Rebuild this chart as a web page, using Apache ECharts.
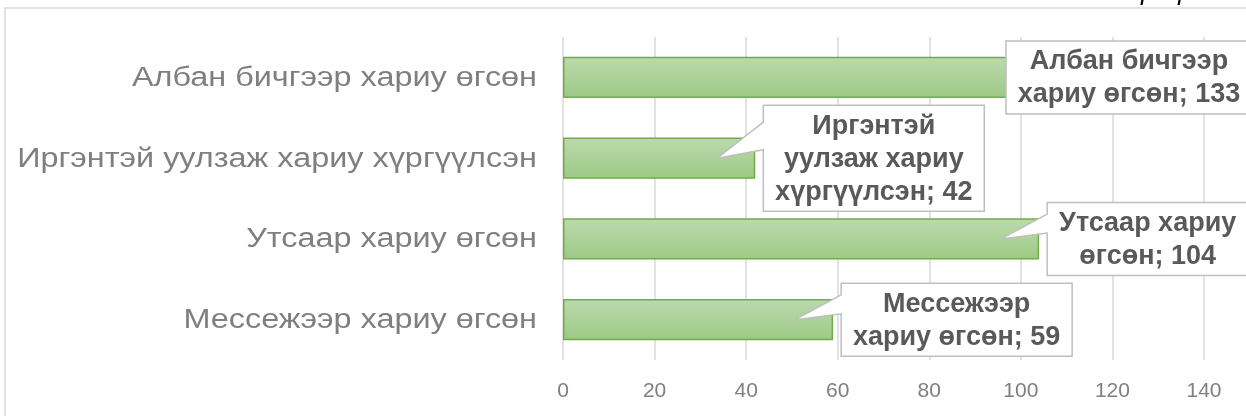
<!DOCTYPE html>
<html>
<head>
<meta charset="utf-8">
<script src="https://cdn.jsdelivr.net/npm/echarts@6/dist/echarts.min.js"></script>
<style>
    html, body { margin: 0; padding: 0; background: #fff; }
    #chart { width: 1246px; height: 416px; }
</style>
</head>
<body>
<div id="chart"></div>
<script>
// categories, top to bottom
var categories = [
    'Албан бичгээр хариу өгсөн',
    'Иргэнтэй уулзаж хариу хүргүүлсэн',
    'Утсаар хариу өгсөн',
    'Мессежээр хариу өгсөн'
];
var values = [133, 42, 104, 59];
// how each callout label is wrapped (value is appended to the last line)
var calloutLines = [
    ['Албан бичгээр', 'хариу өгсөн'],
    ['Иргэнтэй', 'уулзаж хариу', 'хүргүүлсэн'],
    ['Утсаар хариу', 'өгсөн'],
    ['Мессежээр', 'хариу өгсөн']
];
var xTicks = { min: 0, max: 140, step: 20 };

var FONT = '"Liberation Sans", Arial, sans-serif';
var CALLOUT_FONT = 'bold 27px ' + FONT;
var LINE_H = 33;

var measureCtx = document.createElement('canvas').getContext('2d');
function textWidth(str) {
    measureCtx.font = CALLOUT_FONT;
    return measureCtx.measureText(str).width;
}

function calloutText(i) {
    var lines = calloutLines[i].slice();
    lines[lines.length - 1] += '; ' + values[i];
    return lines;
}

function renderCallout(params, api) {
    var idx = api.value(1);
    var pt = api.coord([api.value(0), idx]);
    var endX = pt[0], cy = pt[1];
    var lines = calloutText(idx);
    var w = 0;
    lines.forEach(function(l) { w = Math.max(w, textWidth(l)); });
    w = Math.round(w + 24);
    var h = lines.length * LINE_H + 7;
    var chartW = api.getWidth();

    var left = endX + 8;
    if (left + w > chartW + 12) {
        left = chartW + 6 - w;
    }
    var top = cy - h / 2;
    var right = left + w, bottom = top + h;
    var tipX = endX - 38;

    var points;
    if (tipX < left) {
        points = [
            [left, top], [right, top], [right, bottom], [left, bottom],
            [left, top + h * 0.42], [tipX, cy], [left, top + h * 0.16]
        ];
    } else {
        points = [[left, top], [right, top], [right, bottom], [left, bottom]];
    }

    return {
        type: 'group',
        children: [
            {
                type: 'polygon',
                shape: { points: points },
                style: { fill: '#ffffff', stroke: '#bfbfbf', lineWidth: 1.5 }
            },
            {
                type: 'text',
                style: {
                    text: lines.join('\n'),
                    x: left + w / 2,
                    y: cy + 1,
                    align: 'center',
                    verticalAlign: 'middle',
                    font: CALLOUT_FONT,
                    lineHeight: LINE_H,
                    fill: '#595959'
                }
            }
        ]
    };
}

// category labels, drawn a bit wider than the plain font like the original
function renderCatLabel(params, api) {
    var idx = api.value(1);
    var pt = api.coord([0, idx]);
    return {
        type: 'text',
        x: pt[0] - 26,
        y: pt[1] + 1,
        scaleX: 1.2,
        style: {
            text: categories[idx],
            x: 0,
            y: 0,
            align: 'right',
            verticalAlign: 'middle',
            font: '27px ' + FONT,
            fill: '#7f7f7f'
        }
    };
}

function createViz() {
    var myChart = echarts.init(document.getElementById('chart'));

    var idxData = values.map(function(v, i) { return [v, i]; });

    var option = {
        animation: false,
        backgroundColor: '#ffffff',
        textStyle: { fontFamily: FONT },
        graphic: [
            {
                type: 'rect',
                shape: { x: 5, y: 8, width: 1260, height: 420 },
                style: { fill: 'none', stroke: '#d9d9d9', lineWidth: 1.5 },
                z: -1
            },
            {
                type: 'text',
                left: 1128,
                top: -20,
                style: {
                    text: 'График 1',
                    font: 'italic 26px ' + FONT,
                    fill: '#000000'
                }
            }
        ],
        grid: {
            left: 563,
            right: 42,
            top: 37,
            bottom: 56
        },
        xAxis: {
            type: 'value',
            min: xTicks.min,
            max: xTicks.max,
            interval: xTicks.step,
            axisLine: { show: false },
            axisTick: { show: false },
            axisLabel: {
                color: '#7f7f7f',
                fontSize: 21,
                margin: 21,
                fontFamily: FONT
            },
            splitLine: {
                lineStyle: { color: '#d9d9d9', width: 1.5 }
            }
        },
        yAxis: {
            type: 'category',
            inverse: true,
            data: categories,
            axisLine: { show: false },
            axisTick: { show: false },
            axisLabel: { show: false }
        },
        series: [
            {
                name: 'bars',
                type: 'bar',
                data: values,
                barCategoryGap: '49%',
                itemStyle: {
                    color: {
                        type: 'linear', x: 0, y: 0, x2: 0, y2: 1,
                        colorStops: [
                            { offset: 0, color: '#bbdaad' },
                            { offset: 1, color: '#9dc985' }
                        ]
                    },
                    borderColor: '#70ad47',
                    borderWidth: 1.5
                },
                z: 2
            },
            {
                name: 'catLabels',
                type: 'custom',
                coordinateSystem: 'cartesian2d',
                encode: { x: 0, y: 1 },
                data: idxData,
                renderItem: renderCatLabel,
                clip: false,
                silent: true,
                z: 3
            },
            {
                name: 'callouts',
                type: 'custom',
                coordinateSystem: 'cartesian2d',
                encode: { x: 0, y: 1 },
                data: idxData,
                renderItem: renderCallout,
                clip: false,
                z: 5
            }
        ]
    };

    myChart.setOption(option);
}

createViz();
</script>
</body>
</html>
